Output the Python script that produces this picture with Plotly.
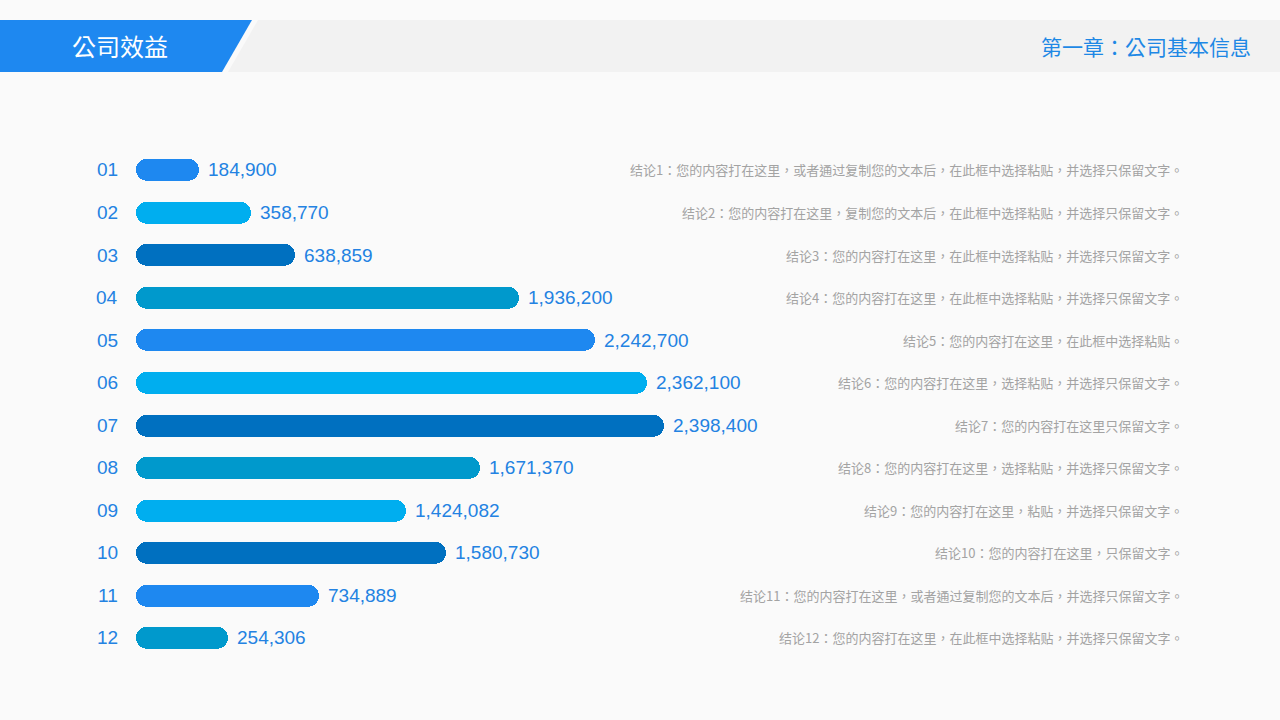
import plotly.graph_objects as go

# ---------------- data ----------------
categories = ["01", "02", "03", "04", "05", "06", "07", "08", "09", "10", "11", "12"]
values = [184900, 358770, 638859, 1936200, 2242700, 2362100, 2398400,
          1671370, 1424082, 1580730, 734889, 254306]
# bar lengths as drawn in the picture (relative, longest bar = 100)
bar_length = [11.9, 21.8, 30.1, 72.5, 86.9, 96.8, 100.0, 65.2, 51.1, 58.7, 34.7, 17.4]
conclusions = [
    "结论1：您的内容打在这里，或者通过复制您的文本后，在此框中选择粘贴，并选择只保留文字。",
    "结论2：您的内容打在这里，复制您的文本后，在此框中选择粘贴，并选择只保留文字。",
    "结论3：您的内容打在这里，在此框中选择粘贴，并选择只保留文字。",
    "结论4：您的内容打在这里，在此框中选择粘贴，并选择只保留文字。",
    "结论5：您的内容打在这里，在此框中选择粘贴。",
    "结论6：您的内容打在这里，选择粘贴，并选择只保留文字。",
    "结论7：您的内容打在这里只保留文字。",
    "结论8：您的内容打在这里，选择粘贴，并选择只保留文字。",
    "结论9：您的内容打在这里，粘贴，并选择只保留文字。",
    "结论10：您的内容打在这里，只保留文字。",
    "结论11：您的内容打在这里，或者通过复制您的文本后，并选择只保留文字。",
    "结论12：您的内容打在这里，在此框中选择粘贴，并选择只保留文字。",
]
title_left = "公司效益"
title_right = "第一章：公司基本信息"

# ---------------- styles ----------------
BLUE = "#1E88F0"
CYAN = "#00AEEF"
DARK = "#0070C0"
TEAL = "#0099CC"
bar_colors = [BLUE, CYAN, DARK, TEAL, BLUE, CYAN, DARK, TEAL, CYAN, DARK, BLUE, TEAL]
TEXT_BLUE = "#2382E2"
GRAY_TEXT = "#A3A3A3"
BG = "#FAFAFA"
W, H = 1280, 720
CJK = "Noto Sans CJK TC, Microsoft YaHei, sans-serif"
NUM = "Arial, Liberation Sans, sans-serif"

rows = list(range(len(categories)))  # row index of each category


def px(x, y):
    return x / W, 1 - y / H


fig = go.Figure()

# Two overlapping halves per bar so that both ends are rounded
fig.add_trace(go.Bar(
    y=rows, x=[l * 0.75 for l in bar_length], base=[l * 0.25 for l in bar_length],
    orientation="h", marker=dict(color=bar_colors, cornerradius="50%", line=dict(width=0)),
    width=0.517, hoverinfo="skip", showlegend=False,
))
fig.add_trace(go.Bar(
    y=rows, x=[-l * 0.75 for l in bar_length], base=[l * 0.75 for l in bar_length],
    orientation="h", marker=dict(color=bar_colors, cornerradius="50%", line=dict(width=0)),
    width=0.517, hoverinfo="skip", showlegend=False,
))

annotations = []
for r, cat, v, l, c in zip(rows, categories, values, bar_length, conclusions):
    annotations.append(dict(x=l, y=r, xref="x", yref="y", text=f"{v:,}", showarrow=False,
                            xanchor="left", xshift=7, font=dict(family=NUM, size=19, color=TEXT_BLUE)))
    annotations.append(dict(x=120 / W, y=r, xref="paper", yref="y", text=cat, showarrow=False,
                            xanchor="right", font=dict(family=NUM, size=19, color=TEXT_BLUE)))
    annotations.append(dict(x=1185 / W, y=r, xref="paper", yref="y", text=c, showarrow=False,
                            xanchor="right", font=dict(family=CJK, size=13, color=GRAY_TEXT)))

# header titles
annotations.append(dict(x=120 / W, y=px(0, 45)[1], xref="paper", yref="paper", text=title_left,
                        showarrow=False, xanchor="center", yanchor="middle",
                        font=dict(family=CJK, size=24, color="white")))
annotations.append(dict(x=1253 / W, y=px(0, 46)[1], xref="paper", yref="paper", text=title_right,
                        showarrow=False, xanchor="right", yanchor="middle",
                        font=dict(family=CJK, size=21, color="#1E88E5")))


def path(points):
    s = ""
    for i, (x, y) in enumerate(points):
        X, Y = px(x, y)
        s += ("M" if i == 0 else "L") + f"{X:.5f},{Y:.5f} "
    return s + "Z"


shapes = [
    dict(type="path", xref="paper", yref="paper", layer="below", line=dict(width=0),
         fillcolor="#F2F2F2", path=path([(258, 20), (1280, 20), (1280, 72), (228, 72)])),
    dict(type="path", xref="paper", yref="paper", layer="below", line=dict(width=0),
         fillcolor=BLUE, path=path([(0, 20), (252, 20), (222, 72), (0, 72)])),
]

x_max = 100 * (W - 136) / 528
top = 1 - (170 - 21.27) / H
bottom = 1 - (638 + 21.27) / H

fig.update_layout(
    width=W, height=H, margin=dict(l=0, r=0, t=0, b=0),
    paper_bgcolor=BG, plot_bgcolor=BG,
    barmode="overlay", bargap=0,
    xaxis=dict(domain=[136 / W, 1], range=[0, x_max], visible=False, fixedrange=True),
    yaxis=dict(domain=[bottom, top], range=[11.5, -0.5], visible=False, fixedrange=True),
    annotations=annotations, shapes=shapes, showlegend=False,
)

fig.write_html("out.html", config={"displayModeBar": False},
               post_script="document.body.style.margin='0';document.body.style.background='#FAFAFA';")
